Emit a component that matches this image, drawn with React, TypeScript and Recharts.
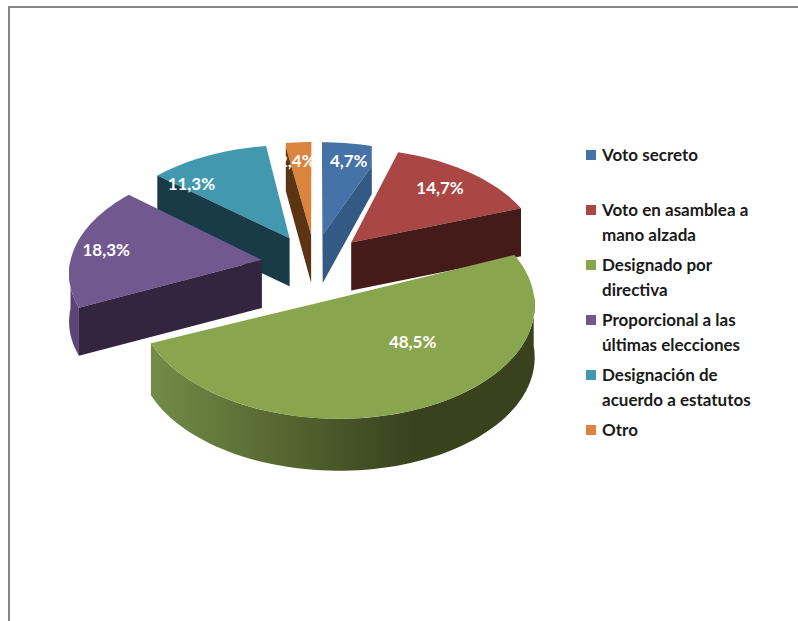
import React from 'react';
import { PieChart, Pie, Legend } from 'recharts';

const categories = [
  'Voto secreto',
  'Voto en asamblea a mano alzada',
  'Designado por directiva',
  'Proporcional a las últimas elecciones',
  'Designación de acuerdo a estatutos',
  'Otro',
];
const values = [4.7, 14.7, 48.5, 18.3, 11.3, 2.4];
const valueLabels = ['4,7%', '14,7%', '48,5%', '18,3%', '11,3%', '2,4%'];

const topColors = ['#4572A7', '#AA4643', '#89A54E', '#71588F', '#4198AF', '#DB843D'];
const sideColors = ['#335A85', '#451B19', '#39421D', '#33243F', '#183B47', '#5A3413'];
const rimColors = ['#335A85', '#451B19', 'url(#greenRim)', '#5D4677', '#183B47', '#5A3413'];
const paintOrder = [0, 5, 4, 1, 3, 2];
const labelNudge: [number, number][] = [
  [8, -7], [2, -4], [16, -32], [-21, 0], [-38, 6], [-5, -6],
];
const apexDrop = [0, 0, 6, 0, 0, 0];
const wallInset = [20, 0, 0, 0, 0, 4];
const depths = [48, 48, 52, 48, 48, 48];

const data = categories.map((name, i) => ({ name, value: values[i], label: valueLabels[i] }));

const EXPLODE = 0.28;
const SQUASH = 0.56;
const PERSPECTIVE = 0.1;
const FONT = 'Lato, "Open Sans", sans-serif';
const rad = (d: number) => (d * Math.PI) / 180;

function project(cx: number, cy: number, r: number, u: number, v: number, drop = 0) {
  const w = 1 / (1 + PERSPECTIVE * v);
  return { x: cx + r * u * w, y: cy - r * SQUASH * v * w + drop };
}

function slicePoint(p: any, angle: number, frac: number, drop = 0) {
  const mid = rad(p.midAngle);
  const u = EXPLODE * Math.cos(mid) + frac * Math.cos(rad(angle));
  const v = EXPLODE * Math.sin(mid) + frac * Math.sin(rad(angle));
  return project(p.cx, p.cy, p.outerRadius, u, v, drop);
}

function arcPoints(p: any, from: number, to: number, drop = 0) {
  const n = Math.max(2, Math.ceil(Math.abs(to - from) / 2));
  const pts = [];
  for (let i = 0; i <= n; i++) pts.push(slicePoint(p, from + ((to - from) * i) / n, 1, drop));
  return pts;
}

const toPath = (pts: { x: number; y: number }[]) =>
  'M' + pts.map((q) => `${q.x.toFixed(1)},${q.y.toFixed(1)}`).join('L') + 'Z';

function SliceShape(props: any, only: number) {
  const i = props.index;
  if (i !== only) return <g />;
  const { startAngle, endAngle } = props;
  const depth = depths[i];
  const apex = slicePoint(props, 0, 0, apexDrop[i]);
  const apexLow = slicePoint(props, 0, 0, depth);
  const arc = arcPoints(props, startAngle, endAngle);
  const start = arc[0];
  const end = arc[arc.length - 1];
  const startWall = start.x < apex.x - 0.5;
  const endWall = apex.x < end.x - 0.5;
  const startIn = { x: start.x, y: start.y + wallInset[i] };
  const endIn = { x: end.x, y: end.y + wallInset[i] };

  // Front-facing part of the rim: the lower half of the ellipse.
  const norm = (a: number) => ((a % 360) + 360) % 360;
  const rimRanges: [number, number][] = [];
  let run: number | null = null;
  const step = 1;
  for (let a = startAngle; a >= endAngle - 1e-6; a -= step) {
    const front = norm(a) > 180;
    if (front && run === null) run = a;
    if (!front && run !== null) {
      rimRanges.push([run, a + step]);
      run = null;
    }
  }
  if (run !== null) rimRanges.push([run, endAngle]);

  const topFace = [
    apex,
    ...(startWall && wallInset[i] ? [startIn] : []),
    ...arc,
    ...(endWall && wallInset[i] ? [endIn] : []),
  ];

  return (
    <g>
      <defs>
        <linearGradient id="greenRim" gradientUnits="userSpaceOnUse" x1="150" y1="0" x2="535" y2="0">
          <stop offset="0" stopColor="#738C47" />
          <stop offset="0.68" stopColor="#39421D" />
          <stop offset="1" stopColor="#39421D" />
        </linearGradient>
      </defs>
      {rimRanges.map(([a, b], k) => {
        const top = arcPoints(props, a, b);
        const low = arcPoints(props, a, b, depth).reverse();
        return <path key={k} d={toPath([...top, ...low])} fill={rimColors[i]} />;
      })}
      <path d={toPath(topFace)} fill={topColors[i]} />
      {startWall && (
        <path
          d={toPath([apex, startIn, { x: start.x, y: start.y + depth }, apexLow])}
          fill={sideColors[i]}
        />
      )}
      {endWall && (
        <path
          d={toPath([apex, endIn, { x: end.x, y: end.y + depth }, apexLow])}
          fill={sideColors[i]}
        />
      )}
    </g>
  );
}

function SliceLabel(props: any) {
  const i = props.index;
  const pos = slicePoint(props, props.midAngle, 0.72);
  return (
    <text
      x={pos.x + labelNudge[i][0]}
      y={pos.y + labelNudge[i][1]}
      fill="#FFFFFF"
      fontFamily={FONT}
      fontWeight={700}
      fontSize={17}
      textAnchor="middle"
      dominantBaseline="central"
    >
      {valueLabels[i]}
    </text>
  );
}

function LegendBox() {
  return (
    <div style={{ width: 175, fontFamily: FONT, fontWeight: 700, fontSize: 17, lineHeight: '25px', color: '#1A1A1A' }}>
      {categories.map((name, i) => (
        <div key={i} style={{ display: 'flex', minHeight: 50, marginBottom: 5 }}>
          <span
            style={{ flex: '0 0 10px', width: 10, height: 10, marginTop: 8, marginRight: 6, background: topColors[i] }}
          />
          <span style={{ width: 155 }}>{name}</span>
        </div>
      ))}
    </div>
  );
}

export default function App() {
  return (
    <div style={{ position: 'absolute', left: 0, top: 0, width: 798, height: 621, overflow: 'hidden', background: '#fff' }}>
      <div
        style={{
          position: 'absolute', left: 8, top: 6, width: 790, height: 615,
          borderTop: '2px solid #868686', borderLeft: '2px solid #868686', boxSizing: 'border-box',
        }}
      />
      <PieChart width={798} height={621} style={{ position: 'absolute', left: 0, top: 0 }}>
        {paintOrder.map((idx) => (
          <Pie
            key={idx}
            data={data}
            dataKey="value"
            nameKey="name"
            cx={310}
            cy={259}
            outerRadius={192}
            startAngle={90}
            endAngle={-270}
            paddingAngle={0}
            stroke="none"
            isAnimationActive={false}
            legendType={idx === 0 ? 'rect' : 'none'}
            shape={(p: any) => SliceShape(p, idx)}
            label={idx === paintOrder[paintOrder.length - 1] ? SliceLabel : false}
            labelLine={false}
          />
        ))}
        <Legend
          layout="vertical"
          content={<LegendBox />}
          wrapperStyle={{ position: 'absolute', left: 586, top: 142, width: 180 }}
        />
      </PieChart>
    </div>
  );
}
